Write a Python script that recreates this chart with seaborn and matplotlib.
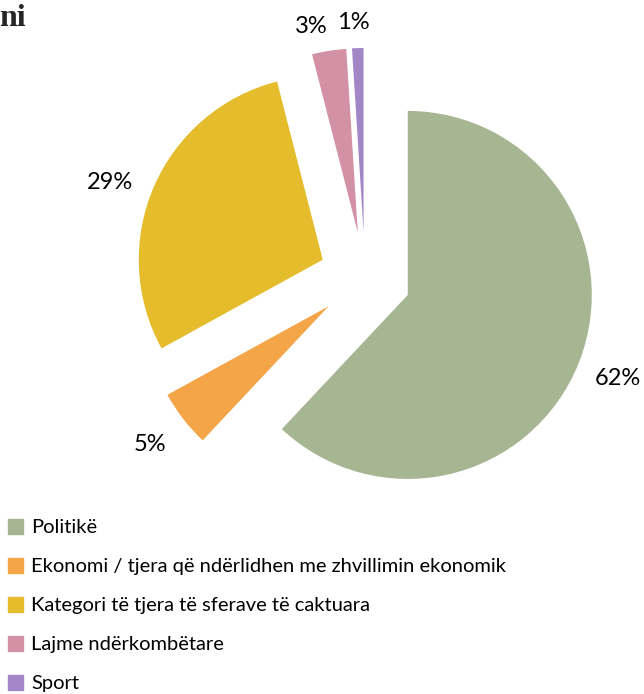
import matplotlib
matplotlib.use("Agg")
import numpy as np
import matplotlib.pyplot as plt
import matplotlib.patches as mpatches
import seaborn as sns

categories = ["Politikë",
              "Ekonomi / tjera që ndërlidhen me zhvillimin ekonomik",
              "Kategori të tjera të sferave të caktuara",
              "Lajme ndërkombëtare",
              "Sport"]
values = [62, 5, 29, 3, 1]
colors = ["#A6B592", "#F4A548", "#E5BC2C", "#D391A5", "#A386C6"]
explode = [0.25, 0.25, 0.25, 0.25, 0.25]
label_dist = [1.23, 1.23, 1.23, 1.15, 1.14]
label_angle_shift = [0.0, 0.0, 3.4, 3.8, 1.1]

sns.set_theme(style="white")
plt.rcParams['font.family'] = ['Lato', 'DejaVu Sans']

W, H = 644, 694
fig = plt.figure(figsize=(W/100, H/100), dpi=100)
ax = fig.add_axes([0, 0, 1, 1])

cx, cy, R = 365, 278, 184
wedges, texts, autotexts = ax.pie(values, colors=colors, explode=explode,
                                  startangle=90, counterclock=False,
                                  autopct='%1.0f%%', pctdistance=1.23,
                                  wedgeprops=dict(linewidth=0),
                                  textprops=dict(fontsize=17, color='#000000'))
for w, t, d, s in zip(wedges, autotexts, label_dist, label_angle_shift):
    ang = np.deg2rad((w.theta1 + w.theta2) / 2 + s)
    x0, y0 = w.center
    t.set_position((x0 + d * w.r * np.cos(ang), y0 + d * w.r * np.sin(ang)))

ax.set_aspect('auto')
ax.set_xlim(-cx/R, (W-cx)/R)
ax.set_ylim(-(H-cy)/R, cy/R)
ax.axis('off')

fig.text(-0.002, 1 - 26/H, "ni", fontsize=23, fontweight='bold',
         family=['Liberation Serif', 'DejaVu Serif'], ha='left', va='baseline')

handles = [mpatches.Patch(color=c, label=l) for c, l in zip(colors, categories)]
fig.legend(handles=handles, loc='upper left', bbox_to_anchor=(0.012, 1 - 519/H),
           frameon=False, fontsize=14.5, handlelength=0.75, handleheight=0.75,
           handletextpad=0.4, labelspacing=1.07, borderaxespad=0, borderpad=0.0,
           labelcolor='#000000')

fig.savefig("out.png", dpi=100)
